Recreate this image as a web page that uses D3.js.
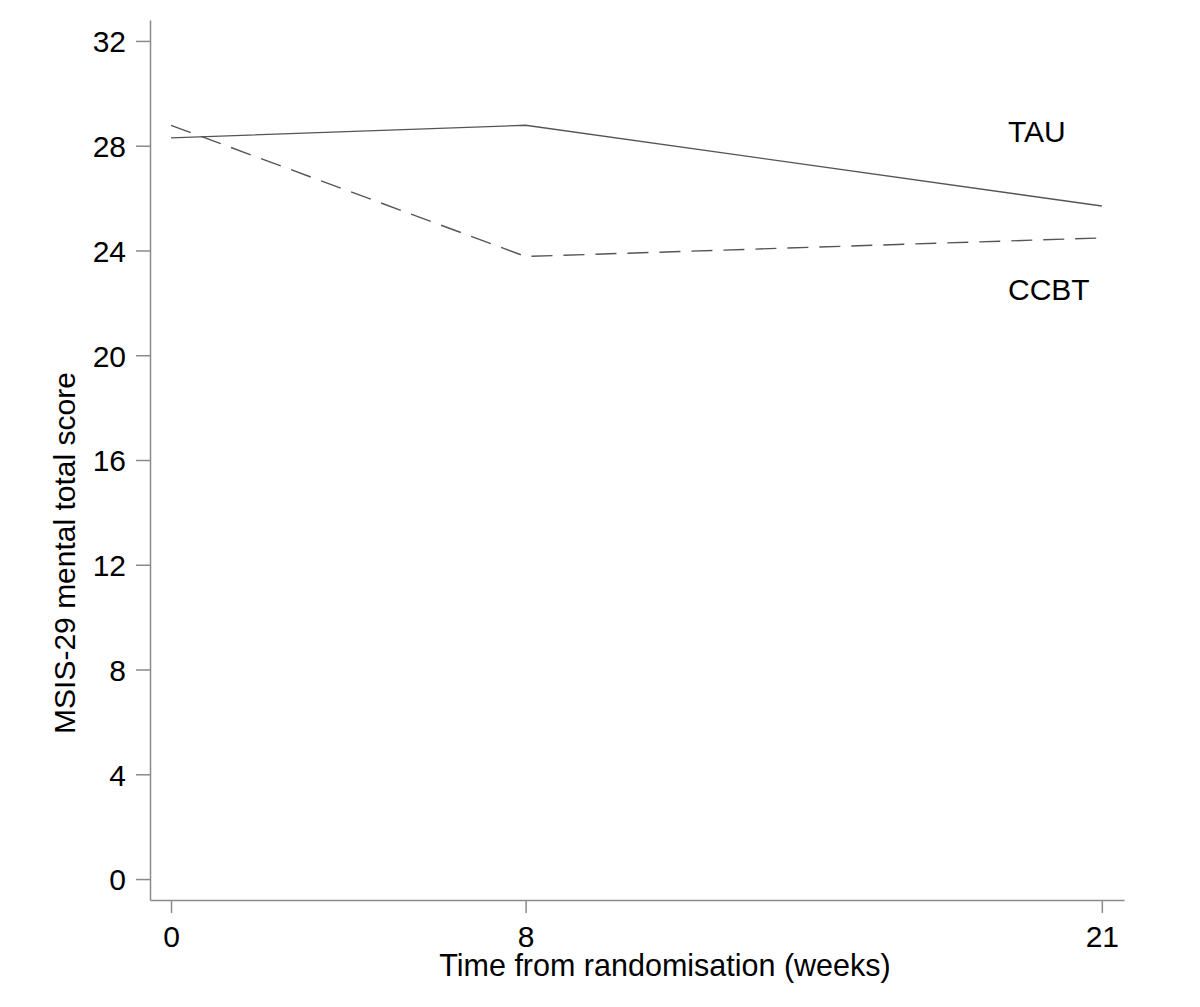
<!DOCTYPE html>
<html>
<head>
<meta charset="utf-8">
<script src="https://cdn.jsdelivr.net/npm/d3@7"></script>
<style>
  html, body { margin: 0; padding: 0; background: #fff; }
  text { font-family: "Liberation Sans", Arial, sans-serif; fill: #000; }
</style>
</head>
<body>
<svg id="chart" width="1200" height="1007"></svg>
<script>
const weeks = [0, 8, 21];
const tauValues = [28.3, 28.78, 25.7];
const ccbtValues = [28.78, 23.77, 24.48];
const seriesNames = ["TAU", "CCBT"];
const yTicks = [0, 4, 8, 12, 16, 20, 24, 28, 32];
const xTicks = [0, 8, 21];
const yTitle = "MSIS-29 mental total score";
const xTitle = "Time from randomisation (weeks)";

const svg = d3.select("#chart");
const axisColor = "#8a8a8a";
const lineColor = "#555";

const x = d3.scaleLinear().domain([-0.474, 21.5]).range([150, 1124]);
const y = d3.scaleLinear().domain([-0.8, 32.8]).range([900, 20]);

// axes
const yAxis = d3.axisLeft(y).tickValues(yTicks).tickSize(14).tickSizeOuter(0).tickPadding(10);
const gy = svg.append("g").attr("transform", "translate(150,0)").call(yAxis);
const xAxis = d3.axisBottom(x).tickValues(xTicks).tickSize(13).tickSizeOuter(0).tickPadding(13);
const gx = svg.append("g").attr("transform", "translate(0,900)").call(xAxis);

[gy, gx].forEach(g => {
  g.select(".domain").attr("stroke", axisColor).attr("stroke-width", 1.5);
  g.selectAll(".tick line").attr("stroke", axisColor).attr("stroke-width", 1.5);
  g.selectAll(".tick text").attr("font-size", 30).attr("font-family", "Liberation Sans, Arial, sans-serif").attr("fill", "#000");
});
gy.selectAll(".tick text").attr("dy", "0.36em");

// lines
const line = d3.line().x((d, i) => x(weeks[i])).y(d => y(d));
svg.append("path").datum(tauValues).attr("d", line)
  .attr("fill", "none").attr("stroke", lineColor).attr("stroke-width", 1.4);
svg.append("path").datum(ccbtValues).attr("d", line)
  .attr("fill", "none").attr("stroke", lineColor).attr("stroke-width", 1.4)
  .attr("stroke-dasharray", "21,11");

// series labels
svg.append("text").attr("x", 1008).attr("y", 142).attr("font-size", 30).text(seriesNames[0]);
svg.append("text").attr("x", 1008).attr("y", 300).attr("font-size", 30).text(seriesNames[1]);

// titles
svg.append("text").attr("transform", "translate(75,553) rotate(-90)")
  .attr("text-anchor", "middle").attr("font-size", 30).text(yTitle);
svg.append("text").attr("x", 665).attr("y", 976)
  .attr("text-anchor", "middle").attr("font-size", 30.5).text(xTitle);
</script>
</body>
</html>
